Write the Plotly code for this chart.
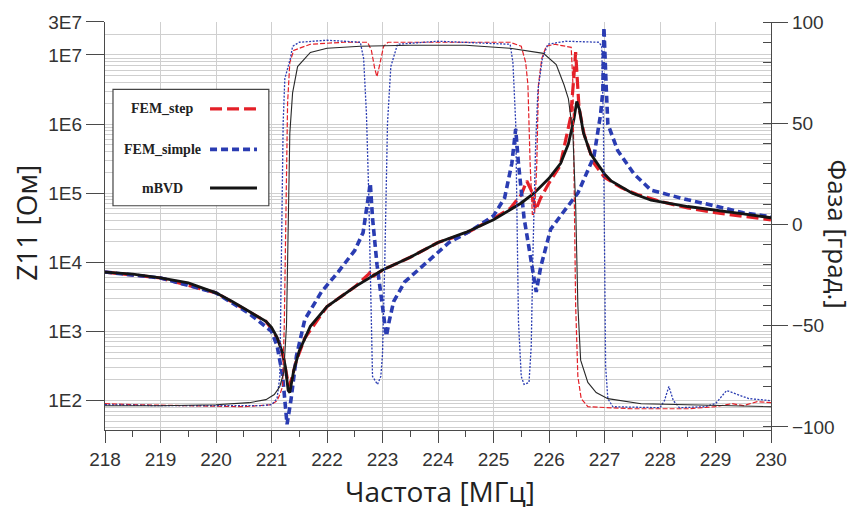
import plotly.graph_objects as go

# ---------------- data ----------------
# |Z11| (Ohm) — thick curves, left axis
f_bvd_z = [218.0, 218.5, 219.0, 219.5, 220.0, 220.3, 220.6, 220.9, 221.0, 221.1, 221.2, 221.25, 221.3, 221.33,
           221.4, 221.5, 221.7, 222.0, 222.5, 223.0, 223.5, 224.0, 224.5, 225.0, 225.5, 225.73, 226.0, 226.21,
           226.35, 226.45, 226.5, 226.55, 226.62, 226.75, 227.0, 227.12, 227.5, 227.84, 228.5, 229.0, 229.5, 230.0]
z_bvd = [7200, 6740, 5910, 5010, 3600, 2680, 1930, 1390, 1140, 820, 485, 306, 139, 130,
         270, 520, 1180, 2280, 4390, 7690, 11800, 19300, 27000, 41100, 72000, 100000, 164000, 270000,
         518000, 1180000, 2130000, 1600000, 750000, 370000, 190000, 150000, 100000, 79000, 64000, 57000, 50000, 44000]

f_step_z = [218.0, 219.0, 220.0, 220.6, 220.9, 221.05, 221.15, 221.22, 221.27, 221.31, 221.36, 221.45, 221.6,
            222.0, 222.5, 222.75, 222.8, 222.85, 223.0, 223.5, 224.0, 224.5, 225.0, 225.3, 225.5, 225.6, 225.68,
            225.76, 225.85, 226.0, 226.2, 226.39, 226.44, 226.48, 226.54, 226.63, 226.81, 227.0, 227.3, 227.6,
            228.0, 228.5, 229.0, 229.5, 230.0]
z_step = [7200, 5910, 3600, 1930, 1390, 950, 650, 400, 230, 160, 200, 380, 800,
          2280, 4390, 6700, 7600, 6400, 7690, 11800, 19300, 26000, 43000, 60000, 95000, 150000, 110000,
          57000, 85000, 140000, 250000, 1260000, 4000000, 11000000, 1750000, 720000, 270000, 170000, 120000, 95000,
          76000, 61000, 52000, 46000, 41000]

f_simple_z = [218.0, 219.0, 220.0, 220.6, 221.0, 221.1, 221.2, 221.28, 221.35, 221.45, 221.6, 221.9, 222.2,
              222.5, 222.65, 222.75, 222.78, 222.82, 222.9, 223.0, 223.07, 223.12, 223.2, 223.4, 223.7, 224.2,
              224.6, 225.0, 225.2, 225.33, 225.4, 225.45, 225.55, 225.7, 225.77, 225.85, 226.03, 226.25, 226.52,
              226.81, 226.93, 226.97, 226.99, 227.03, 227.06, 227.24, 227.53, 227.84, 228.5, 229.0, 229.5, 230.0]
z_simple = [7200, 5910, 3600, 1800, 1000, 620, 228, 45, 100, 440, 1480, 3720, 7200,
            14800, 26800, 85000, 139000, 44000, 9360, 2280, 850, 1390, 2680, 5180, 8480, 19300,
            28700, 46900, 85000, 268000, 850000, 268000, 44000, 7200, 3720, 8480, 30000, 52000, 100000,
            340000, 1390000, 3000000, 25000000, 3500000, 1000000, 410000, 190000, 110000, 80000, 65000, 52000, 45400]

# Phase (deg) — thin curves, right axis
f_bvd_p = [218.0, 219.0, 220.0, 220.6, 220.9, 221.05, 221.15, 221.22, 221.27, 221.3, 221.33, 221.38, 221.47,
           221.7, 222.0, 222.6, 223.5, 224.5, 225.3, 225.9, 226.13, 226.27, 226.35, 226.43, 226.48, 226.52,
           226.57, 226.7, 226.85, 227.06, 227.66, 228.5, 229.3, 230.0]
p_bvd = [-89.5, -89.5, -89, -88, -86.5, -84, -80, -73, -50, 0, 45, 65, 78,
         85, 87, 88, 88.5, 88.5, 87, 84.5, 79, 69, 62, 45, 10, -40,
         -67, -78, -83, -86, -88.5, -89, -89.5, -90]

f_step_p = [218.0, 218.5, 219.5, 220.5, 221.0, 221.1, 221.15, 221.2, 221.23, 221.26, 221.29, 221.33, 221.4,
            221.7, 222.3, 222.73, 222.8, 222.86, 222.9, 222.95, 223.02, 223.1, 224.0, 225.3, 225.5, 225.58,
            225.62, 225.66, 225.7, 225.74, 225.78, 225.81, 225.87, 225.95, 226.1, 226.4, 226.43, 226.45,
            226.48, 226.52, 226.58, 226.7, 227.5, 228.5, 229.0, 229.3, 229.5, 229.75, 230.0]
p_step = [-88.5, -89, -89.5, -90, -89, -87, -84, -80, -50, 10, 60, 80, 86,
          89, 90, 90, 86, 77, 73, 79, 88, 90, 90, 90, 88, 80,
          69, 30, 5, 5, 30, 69, 82, 88, 89, 87.5, 70, 20,
          -40, -75, -86, -90, -91, -91, -90, -88.5, -89.5, -87.5, -88]

f_simple_p = [218.0, 219.0, 220.0, 220.8, 221.0, 221.1, 221.15, 221.18, 221.21, 221.24, 221.3, 221.34, 221.38,
              221.5, 222.0, 222.6, 222.66, 222.71, 222.75, 222.79, 222.82, 222.91, 222.97, 223.0, 223.04, 223.09,
              223.15, 223.27, 224.0, 225.3, 225.35, 225.4, 225.45, 225.5, 225.55, 225.64, 225.68, 225.71, 225.76,
              225.8, 225.88, 225.98, 226.3, 226.9, 226.95, 226.98, 227.0, 227.02, 227.06, 227.15, 228.0, 228.08,
              228.16, 228.24, 228.35, 228.8, 229.0, 229.2, 229.4, 229.6, 229.8, 230.0]
p_simple = [-89, -89.5, -89.5, -89.5, -89, -86, -75, -20, 50, 72, 78, 82, 88,
            90, 91, 90, 82, 55, 17, -40, -75, -79, -75, -64, -20, 50,
            78, 89, 90.5, 89, 80, 50, -48, -75, -79, -78, -60, -15, 40,
            66, 82, 89, 90.5, 90, 88, 50, -20, -70, -86, -90, -90.5, -87,
            -80, -87, -90.5, -90, -88.5, -82, -84, -86, -86.5, -87]

x_ticks = list(range(218, 231))
z_tickvals = [1e2, 1e3, 1e4, 1e5, 1e6, 1e7, 3e7]
z_ticktext = ["1E2", "1E3", "1E4", "1E5", "1E6", "1E7", "3E7"]
p_tickvals = [-100, -50, 0, 50, 100]
legend_names = ["FEM_step", "FEM_simple", "mBVD"]

# ---------------- styles ----------------
RED = "rgb(228,32,40)"
BLUE = "rgb(42,60,178)"
BLACK = "rgb(20,20,20)"
GRID = "#cfcfcf"
AX = "#4a4a4a"

fig = go.Figure()

# phase (thin) curves
fig.add_trace(go.Scatter(x=f_step_p, y=p_step, yaxis="y2", mode="lines", name="FEM_step phase",
                         line=dict(color=RED, width=1.2, dash="5px,2px"), showlegend=False))
fig.add_trace(go.Scatter(x=f_simple_p, y=p_simple, yaxis="y2", mode="lines", name="FEM_simple phase",
                         line=dict(color=BLUE, width=1.3, dash="2px,1.5px"), showlegend=False))
fig.add_trace(go.Scatter(x=f_bvd_p, y=p_bvd, yaxis="y2", mode="lines", name="mBVD phase",
                         line=dict(color="rgb(40,40,40)", width=1.1), showlegend=False))

# impedance (thick) curves
fig.add_trace(go.Scatter(x=f_step_z, y=z_step, mode="lines", name="FEM_step",
                         line=dict(color=RED, width=3.2, dash="12px,5px"), showlegend=False))
fig.add_trace(go.Scatter(x=f_simple_z, y=z_simple, mode="lines", name="FEM_simple",
                         line=dict(color=BLUE, width=3.6, dash="7px,4px"), showlegend=False))
fig.add_trace(go.Scatter(x=f_bvd_z, y=z_bvd, mode="lines", name="mBVD",
                         line=dict(color=BLACK, width=2.8), showlegend=False))

minor_log = [m * 10 ** k for k in range(1, 8) for m in range(2, 10)]

TICK_FONT = dict(family="Liberation Sans, Arial, sans-serif", size=19, color="#333")
fig.update_layout(
    width=856, height=513,
    margin=dict(l=105, r=85, t=17, b=83),
    paper_bgcolor="white", plot_bgcolor="white",
    font=dict(family="Liberation Sans, Arial, sans-serif", size=18, color="#222"),
    xaxis=dict(range=[218, 230], tickvals=x_ticks, ticks="outside", ticklen=12, tickcolor=AX,
               showgrid=True, gridcolor=GRID, gridwidth=1, zeroline=False,
               showline=True, linecolor=AX, linewidth=1.2,
               minor=dict(dtick=0.5, ticks="outside", ticklen=6, tickcolor=AX, showgrid=False),
               tickfont=TICK_FONT),
    yaxis=dict(type="log", range=[1.571, 7.477], tickvals=z_tickvals, ticktext=z_ticktext,
               ticks="outside", ticklen=18, tickcolor=AX, showgrid=True, gridcolor=GRID, gridwidth=1,
               zeroline=False, showline=True, linecolor=AX, linewidth=1.2,
               minor=dict(tickvals=minor_log, showgrid=True, gridcolor=GRID, gridwidth=1, ticks=""),
               tickfont=TICK_FONT),
    yaxis2=dict(overlaying="y", side="right", range=[-101.5, 100], tickvals=p_tickvals,
                ticks="outside", ticklen=16, tickcolor=AX, showgrid=False, zeroline=False,
                showline=True, linecolor=AX, linewidth=1.2,
                minor=dict(dtick=10, ticks="inside", ticklen=8, tickcolor=AX),
                tickfont=TICK_FONT),
)

# axis titles
TITLE_FONT = dict(family="Open Sans, Noto Sans, sans-serif", size=28, color="#222")
fig.add_annotation(text="Z11 [Ом]", xref="paper", yref="paper", x=-0.1186, y=0.508,
                   xanchor="center", yanchor="middle",
                   textangle=-90, showarrow=False, font=TITLE_FONT)
fig.add_annotation(text="Фаза [град.]", xref="paper", yref="paper", x=1.1006, y=0.479,
                   xanchor="center", yanchor="middle",
                   textangle=90, showarrow=False, font=dict(TITLE_FONT, size=26))
fig.add_annotation(text="Частота [МГц]", xref="paper", yref="paper", x=0.503, y=-0.150,
                   xanchor="center", yanchor="middle",
                   showarrow=False, font=TITLE_FONT)

# legend box (text left, line sample right, as in the reference)
fig.add_shape(type="rect", xref="paper", yref="paper", x0=0.012, x1=0.246, y0=0.5496, y1=0.835,
              line=dict(color="#444", width=1.2), fillcolor="white", layer="above")
leg_styles = [dict(color=RED, width=3.2, dash="12px,5px"),
              dict(color=BLUE, width=3.6, dash="7px,4px"),
              dict(color=BLACK, width=3)]
leg_y = [0.787, 0.6877, 0.593]
for name, st, yy in zip(legend_names, leg_styles, leg_y):
    fig.add_annotation(text="<b>%s</b>" % name, xref="paper", yref="paper", x=0.0856, y=yy,
                       xanchor="center", yanchor="middle", showarrow=False,
                       font=dict(family="Liberation Serif, Times New Roman, serif", size=14, color="#222"))
    fig.add_shape(type="line", xref="paper", yref="paper", x0=0.1577, x1=0.2282, y0=yy, y1=yy,
                  line=st, layer="above")

fig.write_html("out.html", config={"displayModeBar": False},
               post_script="document.body.style.margin='0';document.body.style.overflow='hidden';")
